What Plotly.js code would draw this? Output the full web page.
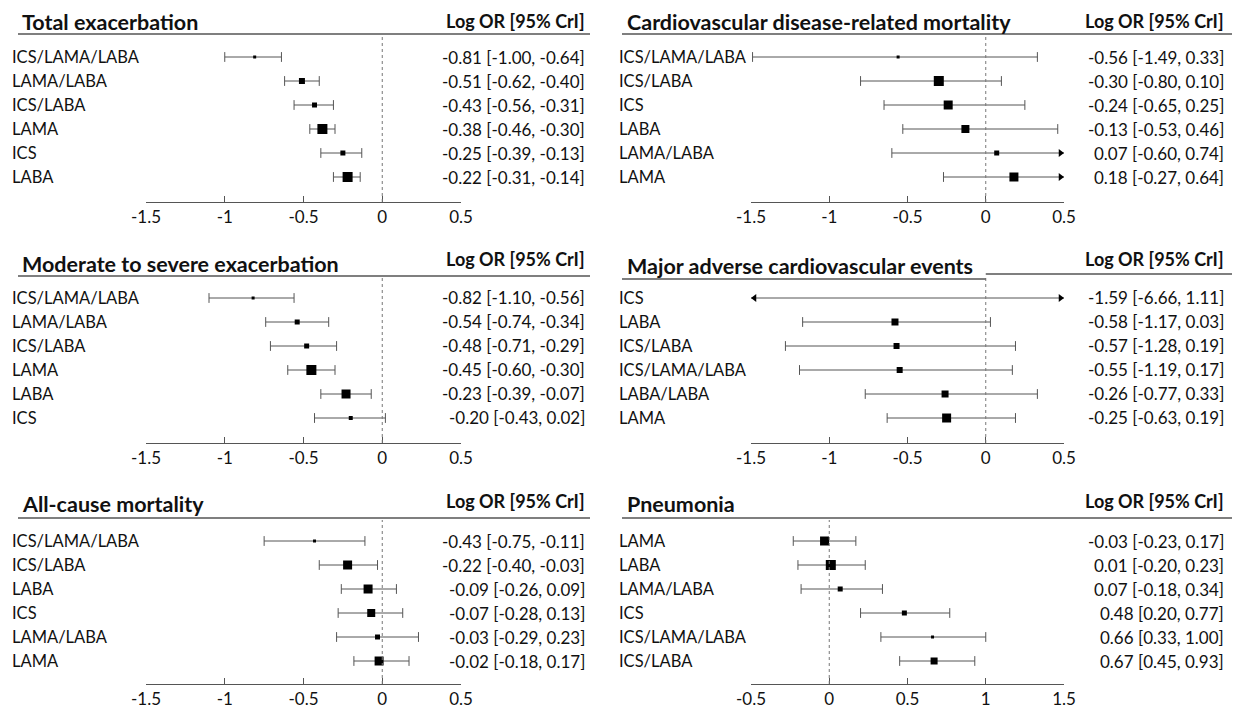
<!DOCTYPE html>
<html><head><meta charset="utf-8">
<script src="https://cdn.plot.ly/plotly-3.0.1.min.js"></script>
<style>html,body{margin:0;padding:0;background:#fff;}#chart{width:1239px;height:713px;}</style>
</head><body><div id="chart"></div>
<script>
// ---------------- DATA ----------------
const teLabels = ['ICS/LAMA/LABA','LAMA/LABA','ICS/LABA','LAMA','ICS','LABA'];
const teEst = [-0.81,-0.51,-0.43,-0.38,-0.25,-0.22];
const teLo  = [-1.00,-0.62,-0.56,-0.46,-0.39,-0.31];
const teHi  = [-0.64,-0.40,-0.31,-0.30,-0.13,-0.14];
const teWeight = [3,6,5,10,5,10];

const cvLabels = ['ICS/LAMA/LABA','ICS/LABA','ICS','LABA','LAMA/LABA','LAMA'];
const cvEst = [-0.56,-0.30,-0.24,-0.13,0.07,0.18];
const cvLo  = [-1.49,-0.80,-0.65,-0.53,-0.60,-0.27];
const cvHi  = [0.33,0.10,0.25,0.46,0.74,0.64];
const cvWeight = [3,10,9,8,5,9];

const msLabels = ['ICS/LAMA/LABA','LAMA/LABA','ICS/LABA','LAMA','LABA','ICS'];
const msEst = [-0.82,-0.54,-0.48,-0.45,-0.23,-0.20];
const msLo  = [-1.10,-0.74,-0.71,-0.60,-0.39,-0.43];
const msHi  = [-0.56,-0.34,-0.29,-0.30,-0.07,0.02];
const msWeight = [3,5,5,10,9,4];

const maLabels = ['ICS','LABA','ICS/LABA','ICS/LAMA/LABA','LABA/LABA','LAMA'];
const maEst = [-1.59,-0.58,-0.57,-0.55,-0.26,-0.25];
const maLo  = [-6.66,-1.17,-1.28,-1.19,-0.77,-0.63];
const maHi  = [1.11,0.03,0.19,0.17,0.33,0.19];
const maWeight = [3,7,6,6,7,9];

const acLabels = ['ICS/LAMA/LABA','ICS/LABA','LABA','ICS','LAMA/LABA','LAMA'];
const acEst = [-0.43,-0.22,-0.09,-0.07,-0.03,-0.02];
const acLo  = [-0.75,-0.40,-0.26,-0.28,-0.29,-0.18];
const acHi  = [-0.11,-0.03,0.09,0.13,0.23,0.17];
const acWeight = [3,9,9,8,5,9];

const pnLabels = ['LAMA','LABA','LAMA/LABA','ICS','ICS/LAMA/LABA','ICS/LABA'];
const pnEst = [-0.03,0.01,0.07,0.48,0.66,0.67];
const pnLo  = [-0.23,-0.20,-0.18,0.20,0.33,0.45];
const pnHi  = [0.17,0.23,0.34,0.77,1.00,0.93];
const pnWeight = [9,10,5,5,3,7];

const panelTitles = ['Total exacerbation','Cardiovascular disease-related mortality',
  'Moderate to severe exacerbation','Major adverse cardiovascular events',
  'All-cause mortality','Pneumonia'];
const headerText = 'Log OR [95% CrI]';
const tickValsStd = [-1.5,-1,-0.5,0,0.5];
const tickTextStd = ['-1.5','-1','-0.5','0','0.5'];
const tickValsPn = [-0.5,0,0.5,1,1.5];
const tickTextPn = ['-0.5','0','0.5','1','1.5'];

// ---------------- LAYOUT GEOMETRY (style) ----------------
const W = 1239, H = 713;
const FONT = 'Lato, "Open Sans", sans-serif';
const TXT = '#111111', LINE = '#555555';
const cols = [
  {plotX0:146, plotX1:461, labelX:10, titleX:20, ruleX0:18, ruleX1:590, textRight:587},
  {plotX0:751, plotX1:1064, labelX:617, titleX:625, ruleX0:622, ruleX1:1232, textRight:1226}
];
const rows = [
  {titleY:22, headY:21, ruleY:34, firstY:57, axisY:202},
  {titleY:264, headY:259, ruleY:276, firstY:298, axisY:443},
  {titleY:504, headY:501, ruleY:518, firstY:541, axisY:684}
];
const ROWSTEP = 24;

const panels = [
  {labels:teLabels, est:teEst, lo:teLo, hi:teHi, w:teWeight, range:[-1.5,0.5], tv:tickValsStd, tt:tickTextStd, col:0, row:0},
  {labels:cvLabels, est:cvEst, lo:cvLo, hi:cvHi, w:cvWeight, range:[-1.5,0.5], tv:tickValsStd, tt:tickTextStd, col:1, row:0},
  {labels:msLabels, est:msEst, lo:msLo, hi:msHi, w:msWeight, range:[-1.5,0.5], tv:tickValsStd, tt:tickTextStd, col:0, row:1},
  {labels:maLabels, est:maEst, lo:maLo, hi:maHi, w:maWeight, range:[-1.5,0.5], tv:tickValsStd, tt:tickTextStd, col:1, row:1, splitRule:true},
  {labels:acLabels, est:acEst, lo:acLo, hi:acHi, w:acWeight, range:[-1.5,0.5], tv:tickValsStd, tt:tickTextStd, col:0, row:2},
  {labels:pnLabels, est:pnEst, lo:pnLo, hi:pnHi, w:pnWeight, range:[-0.5,1.5], tv:tickValsPn, tt:tickTextPn, col:1, row:2}
];

const px = x => x / W;
const py = y => 1 - y / H;
const f2 = v => v.toFixed(2);

const data = [], shapes = [], annotations = [];
const layout = {
  width: W, height: H, margin:{l:0,r:0,t:0,b:0},
  paper_bgcolor:'#fff', plot_bgcolor:'rgba(0,0,0,0)',
  showlegend:false, font:{family:FONT, color:TXT},
  shapes, annotations
};

panels.forEach((p, idx) => {
  const k = idx + 1;
  const xa = 'x' + (k === 1 ? '' : k), ya = 'y' + (k === 1 ? '' : k);
  const c = cols[p.col], r = rows[p.row];
  const n = p.labels.length;
  const top = r.ruleY + 2, bot = r.axisY;
  const yTopVal = -(r.firstY - top) / ROWSTEP;
  const yBotVal = (n - 1) + (bot - (r.firstY + (n - 1) * ROWSTEP)) / ROWSTEP;
  const [xmin, xmax] = p.range;
  const pxPerUnit = (c.plotX1 - c.plotX0) / (xmax - xmin);
  const arrowOff = 3.5 / pxPerUnit;

  layout['xaxis' + (k === 1 ? '' : k)] = {
    domain:[px(c.plotX0), px(c.plotX1)], range:[xmin, xmax], anchor:ya,
    showgrid:false, zeroline:false, showline:true, linecolor:LINE, linewidth:1,
    ticks:'inside', ticklen:6, tickwidth:1, tickcolor:LINE,
    tickmode:'array', tickvals:p.tv, ticktext:p.tt,
    tickfont:{family:FONT, size:17, color:TXT}, fixedrange:true
  };
  layout['yaxis' + (k === 1 ? '' : k)] = {
    domain:[py(bot), py(top)], range:[yBotVal, yTopVal], anchor:xa,
    visible:false, showgrid:false, zeroline:false, fixedrange:true
  };

  const lx = [], ly = [], capX = [], capY = [], arX = [], arY = [], arS = [], ptX = [], ptY = [], ptS = [];
  for (let i = 0; i < n; i++) {
    const lo = Math.max(p.lo[i], xmin), hi = Math.min(p.hi[i], xmax);
    lx.push(lo, hi, null); ly.push(i, i, null);
    if (p.lo[i] < xmin) { arX.push(xmin + arrowOff); arY.push(i); arS.push('triangle-left'); }
    else { capX.push(p.lo[i]); capY.push(i); }
    if (p.hi[i] > xmax) { arX.push(xmax - arrowOff); arY.push(i); arS.push('triangle-right'); }
    else { capX.push(p.hi[i]); capY.push(i); }
    if (p.est[i] >= xmin && p.est[i] <= xmax) { ptX.push(p.est[i]); ptY.push(i); ptS.push(p.w[i]); }

    annotations.push({xref:'paper', yref:ya, x:px(c.labelX), y:i, xanchor:'left', yanchor:'middle',
      text:p.labels[i], showarrow:false, font:{family:FONT, size:16.5, color:TXT}});
    annotations.push({xref:'paper', yref:ya, x:px(c.textRight), y:i, xanchor:'right', yanchor:'middle',
      text:f2(p.est[i]) + ' [' + f2(p.lo[i]) + ', ' + f2(p.hi[i]) + ']', showarrow:false,
      font:{family:FONT, size:17, color:TXT}});
  }
  data.push({type:'scatter', mode:'lines', x:lx, y:ly, xaxis:xa, yaxis:ya,
    line:{color:LINE, width:1}, hoverinfo:'skip', cliponaxis:false});
  data.push({type:'scatter', mode:'markers', x:capX, y:capY, xaxis:xa, yaxis:ya, cliponaxis:false,
    marker:{symbol:'line-ns-open', size:7, color:LINE, opacity:1, line:{color:LINE, width:1}}, hoverinfo:'skip'});
  data.push({type:'scatter', mode:'markers', x:arX, y:arY, xaxis:xa, yaxis:ya, cliponaxis:false,
    marker:{symbol:arS, size:7, color:'#000', opacity:1, line:{width:0}}, hoverinfo:'skip'});
  data.push({type:'scatter', mode:'markers', x:ptX, y:ptY, xaxis:xa, yaxis:ya, cliponaxis:false,
    marker:{symbol:'square', size:ptS, color:'#000', opacity:1, line:{width:0}}});

  shapes.push({type:'line', xref:xa, yref:ya + ' domain', x0:0, x1:0, y0:0, y1:1,
    line:{color:'#777', width:1, dash:'dot'}});

  if (p.splitRule) {
    const splitPx = c.plotX0 + (0 - xmin) * pxPerUnit;
    shapes.push({type:'line', xref:'paper', yref:'paper', x0:px(c.ruleX0), x1:px(splitPx),
      y0:py(r.ruleY + 3), y1:py(r.ruleY + 3), line:{color:LINE, width:1.5}});
    shapes.push({type:'line', xref:'paper', yref:'paper', x0:px(splitPx), x1:px(c.ruleX1),
      y0:py(r.ruleY - 2), y1:py(r.ruleY - 2), line:{color:LINE, width:1.5}});
  } else {
    shapes.push({type:'line', xref:'paper', yref:'paper', x0:px(c.ruleX0), x1:px(c.ruleX1),
      y0:py(r.ruleY), y1:py(r.ruleY), line:{color:LINE, width:1.5}});
  }

  annotations.push({xref:'paper', yref:'paper', x:px(c.titleX), y:py(r.titleY + (p.splitRule ? 2 : 0)),
    xanchor:'left', yanchor:'middle', text:'<b>' + panelTitles[idx] + '</b>', showarrow:false,
    font:{family:FONT, size:21.5, color:TXT}});
  annotations.push({xref:'paper', yref:'paper', x:px(c.textRight), y:py(r.headY),
    xanchor:'right', yanchor:'middle', text:'<b>' + headerText + '</b>', showarrow:false,
    font:{family:FONT, size:18, color:TXT}});
});

Plotly.newPlot('chart', data, layout, {displayModeBar:false, staticPlot:true});
</script>
</body></html>
